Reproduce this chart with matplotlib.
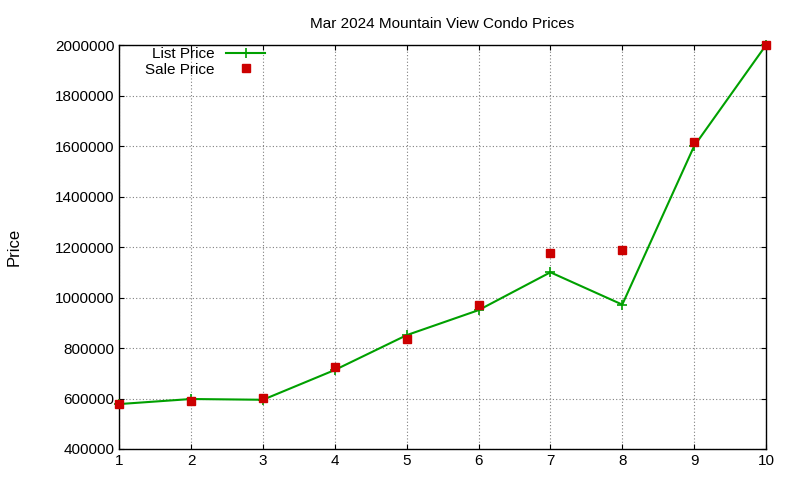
import matplotlib
matplotlib.use("Agg")
import matplotlib.pyplot as plt

x = [1, 2, 3, 4, 5, 6, 7, 8, 9, 10]
list_price = [578000, 598000, 595000, 713000, 851000, 950000, 1100000, 972000, 1600000, 2000000]
sale_price = [578000, 590000, 602000, 725000, 835000, 970000, 1176000, 1190000, 1616000, 2000000]
yticks = [400000, 600000, 800000, 1000000, 1200000, 1400000, 1600000, 1800000, 2000000]

plt.rcParams['font.family'] = ['Liberation Sans', 'DejaVu Sans']
fig = plt.figure(figsize=(8, 4.8), dpi=100)
ax = fig.add_axes([0.149, 0.0646, 0.8085, 0.8414])
ax.plot(x, list_price, color='#00a000', lw=1.5, marker='+', ms=7, mew=1.2, label='List Price', clip_on=False, zorder=3)
ax.plot(x, sale_price, ls='none', marker='s', color='#cc0000', ms=6, label='Sale Price', clip_on=False, zorder=4)
ax.set_xlim(1, 10)
ax.set_ylim(400000, 2000000)
ax.set_xticks(x)
ax.set_yticks(yticks)
ax.set_yticklabels([str(v) for v in yticks])
ax.grid(True, ls=(0, (1, 2)), color='#808080', lw=0.8)
ax.tick_params(direction='in', labelsize=11, top=True, right=True)
ax.set_ylabel('Price', fontsize=12, labelpad=24)
ax.set_title('Mar 2024 Mountain View Condo Prices', fontsize=11, pad=12)
ax.legend(loc='upper left', bbox_to_anchor=(0.03, 1.01), frameon=False, fontsize=11,
          markerfirst=False, handlelength=2.5, borderaxespad=0, labelspacing=0.1)
for s in ax.spines.values():
    s.set_linewidth(1)
fig.savefig('out.png', dpi=100)
